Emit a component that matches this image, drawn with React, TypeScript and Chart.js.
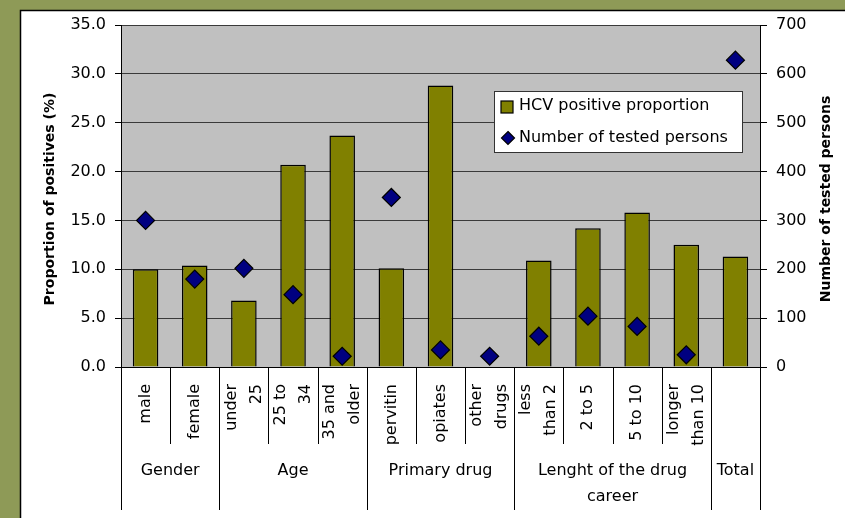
import React, { useEffect, useRef } from "react";
import { Chart, registerables } from "chart.js";

Chart.register(...registerables);

const categoryLines: string[][] = [
  ["male"],
  ["female"],
  ["under", "25"],
  ["25 to", "34"],
  ["35 and", "older"],
  ["pervitin"],
  ["opiates"],
  ["other", "drugs"],
  ["less", "than 2"],
  ["2 to 5"],
  ["5 to 10"],
  ["longer", "than 10"],
  [""],
];
const categories = categoryLines.map((l) => l.join(" ").trim() || "Total");

const groupLabels: string[][] = [["Gender"], ["Age"], ["Primary drug"], ["Lenght of the drug", "career"], ["Total"]];
const groupSizes = [2, 3, 3, 4, 1];

const hcvPositive: (number | null)[] = [10.0, 10.4, 6.8, 20.7, 23.7, 10.1, 28.8, null, 10.9, 14.2, 15.8, 12.5, 11.3];
const testedPersons: number[] = [300, 180, 202, 148, 22, 347, 35, 22, 63, 104, 83, 25, 628];

const leftTitle = "Proportion of positives (%)";
const rightTitle = "Number of tested persons";
const legendLabels = ["HCV positive proportion", "Number of tested persons"];

const FONT = '"DejaVu Sans", sans-serif';
const OLIVE_FRAME = "#8E9A57";
const BAR = "#808000";
const NAVY = "#000080";

const decorPlugin = {
  id: "decor",
  beforeDraw(chart: any) {
    const { ctx, chartArea } = chart;
    const W = chart.width;
    const H = chart.height;
    ctx.save();
    ctx.fillStyle = OLIVE_FRAME;
    ctx.fillRect(0, 0, W, H);
    ctx.fillStyle = "#ffffff";
    ctx.fillRect(20, 10, W - 20, H - 10);
    ctx.strokeStyle = "#000";
    ctx.lineWidth = 1.5;
    ctx.beginPath();
    ctx.moveTo(20.5, H);
    ctx.lineTo(20.5, 10.5);
    ctx.lineTo(W, 10.5);
    ctx.stroke();
    ctx.fillStyle = "#C0C0C0";
    ctx.fillRect(chartArea.left, chartArea.top, chartArea.right - chartArea.left, chartArea.bottom - chartArea.top);
    ctx.restore();
  },
  afterDraw(chart: any) {
    const { ctx, chartArea } = chart;
    const xs = chart.scales.x;
    const n = categories.length;
    const boundary = (k: number) => {
      if (k <= 0) return chartArea.left;
      if (k >= n) return chartArea.right;
      return (xs.getPixelForValue(k - 1) + xs.getPixelForValue(k)) / 2;
    };
    const groupEdges = new Set<number>();
    let acc = 0;
    groupEdges.add(0);
    groupSizes.forEach((s) => {
      acc += s;
      groupEdges.add(acc);
    });
    ctx.save();
    ctx.strokeStyle = "#000";
    ctx.lineWidth = 1;
    for (let k = 0; k <= n; k++) {
      const x = Math.round(boundary(k)) + 0.5;
      const bottom = groupEdges.has(k) ? 510 : 444;
      ctx.beginPath();
      ctx.moveTo(x, chartArea.bottom);
      ctx.lineTo(x, bottom);
      ctx.stroke();
    }
    // category labels
    ctx.fillStyle = "#000";
    ctx.font = `16px ${FONT}`;
    categoryLines.forEach((lines, i) => {
      const cx = xs.getPixelForValue(i);
      ctx.save();
      ctx.translate(cx, chartArea.bottom + 17);
      ctx.rotate(-Math.PI / 2);
      ctx.textAlign = "right";
      ctx.textBaseline = "middle";
      lines.forEach((line, j) => {
        const off = (j - (lines.length - 1) / 2) * 25;
        ctx.fillText(line, 0, off);
      });
      ctx.restore();
    });
    // group labels
    ctx.textAlign = "center";
    ctx.textBaseline = "middle";
    let start = 0;
    groupLabels.forEach((lines, g) => {
      const end = start + groupSizes[g];
      const cx = (boundary(start) + boundary(end)) / 2;
      lines.forEach((line, j) => {
        ctx.fillText(line, cx, 471 + j * 26);
      });
      start = end;
    });
    // axis titles
    ctx.font = `bold 14px ${FONT}`;
    const midY = (chartArea.top + chartArea.bottom) / 2 + 3;
    ctx.save();
    ctx.translate(50, midY);
    ctx.rotate(-Math.PI / 2);
    ctx.fillText(leftTitle, 0, 0);
    ctx.restore();
    ctx.save();
    ctx.translate(826, midY);
    ctx.rotate(-Math.PI / 2);
    ctx.fillText(rightTitle, 0, 0);
    ctx.restore();
    // legend
    const lx = 494.5, ly = 91.5, lw = 248, lh = 61;
    ctx.fillStyle = "#fff";
    ctx.fillRect(lx, ly, lw, lh);
    ctx.strokeStyle = "#333";
    ctx.lineWidth = 1;
    ctx.strokeRect(lx, ly, lw, lh);
    ctx.fillStyle = BAR;
    ctx.fillRect(501, 101, 12, 12);
    ctx.strokeStyle = "#000";
    ctx.lineWidth = 1.2;
    ctx.strokeRect(501, 101, 12, 12);
    ctx.fillStyle = NAVY;
    ctx.beginPath();
    const dx = 508, dy = 138, r = 6.5;
    ctx.moveTo(dx, dy - r);
    ctx.lineTo(dx + r, dy);
    ctx.lineTo(dx, dy + r);
    ctx.lineTo(dx - r, dy);
    ctx.closePath();
    ctx.fill();
    ctx.stroke();
    ctx.fillStyle = "#000";
    ctx.font = `16px ${FONT}`;
    ctx.textAlign = "left";
    ctx.textBaseline = "middle";
    ctx.fillText(legendLabels[0], 519, 106);
    ctx.fillText(legendLabels[1], 519, 138);
    ctx.restore();
  },
};

export default function App() {
  const ref = useRef<HTMLCanvasElement | null>(null);
  useEffect(() => {
    if (!ref.current) return;
    const chart = new Chart(ref.current, {
      type: "bar",
      data: {
        labels: categories,
        datasets: [
          {
            type: "line",
            label: legendLabels[1],
            data: testedPersons,
            yAxisID: "y1",
            showLine: false,
            pointStyle: "rectRot",
            pointRadius: 9,
            pointBackgroundColor: NAVY,
            pointBorderColor: "#000",
            pointBorderWidth: 1.2,
            order: 0,
          } as any,
          {
            type: "bar",
            label: legendLabels[0],
            data: hcvPositive,
            yAxisID: "y",
            backgroundColor: BAR,
            borderColor: "#000",
            borderWidth: 1.5,
            barPercentage: 0.52,
            categoryPercentage: 1,
            order: 1,
          } as any,
        ],
      },
      options: {
        animation: false,
        responsive: false,
        layout: { padding: { top: 25, left: 0, right: 0, bottom: 0 } },
        plugins: { legend: { display: false }, tooltip: { enabled: false } },
        scales: {
          x: {
            type: "category",
            offset: true,
            grid: { display: false },
            border: { display: true, color: "#000" },
            ticks: { display: false },
            afterFit: (s: any) => {
              s.height = 151;
            },
          },
          y: {
            position: "left",
            min: 0,
            max: 35,
            ticks: {
              stepSize: 5,
              padding: 9,
              color: "#000",
              font: { family: FONT, size: 16 },
              callback: (v: any) => Number(v).toFixed(1),
            },
            grid: { color: "#3a3a3a", lineWidth: 1, tickLength: 6, tickColor: "#000" },
            border: { display: true, color: "#000", width: 1 },
            afterFit: (s: any) => {
              s.width = 121;
            },
          },
          y1: {
            position: "right",
            min: 0,
            max: 700,
            ticks: {
              stepSize: 100,
              padding: 9,
              color: "#000",
              font: { family: FONT, size: 16 },
            },
            grid: { drawOnChartArea: false, tickLength: 7, color: "#000" },
            border: { display: true, color: "#000", width: 1 },
            afterFit: (s: any) => {
              s.width = 85;
            },
          },
        },
      },
      plugins: [decorPlugin],
    } as any);
    return () => chart.destroy();
  }, []);
  return (
    <div style={{ position: "fixed", left: 0, top: 0, width: 845, height: 518 }}>
      <canvas ref={ref} width={845} height={518} style={{ width: 845, height: 518, display: "block" }} />
    </div>
  );
}
